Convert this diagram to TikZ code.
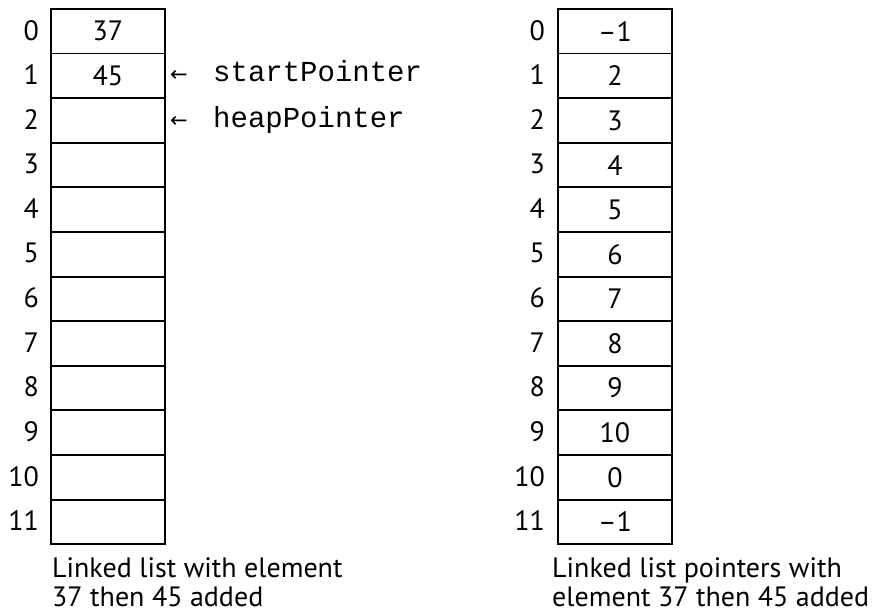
\documentclass[tikz,border=0pt]{standalone}
\usepackage{fontspec}
\setmainfont{PT Sans}
\newfontfamily\monof{Liberation Mono}
\newfontfamily\arrf{DejaVu Sans}
\begin{document}
\begin{tikzpicture}[x=1pt,y=-1pt,
  cell/.style={draw,line width=1.9pt,minimum width=114pt,minimum height=44.6pt,inner sep=0pt,font=\fontsize{28}{30}\selectfont,anchor=north west},
  idx/.style={anchor=east,inner sep=0pt,font=\fontsize{28}{30}\selectfont},
  ptr/.style={anchor=base west,inner sep=0pt,font=\monof\fontsize{29}{32}\selectfont},
  arr/.style={anchor=base west,inner sep=0pt,font=\arrf\fontsize{21}{24}\selectfont},
  captext/.style={anchor=base west,inner sep=0pt,align=left,font=\fontsize{28}{30}\selectfont}]
\useasboundingbox (0,0) rectangle (890,615);
\foreach \i/\v in {0/37,1/45,2/,3/,4/,5/,6/,7/,8/,9/,10/,11/}{
  \node[cell] (L\i) at (50,{8+44.6*\i}) {\v};
  \node[idx] (LI\i) at (39,{8+44.6*(\i+0.5)}) {\i};
}
\foreach \i/\v in {0/–1,1/2,2/3,3/4,4/5,5/6,6/7,7/8,8/9,9/10,10/0,11/–1}{
  \node[cell] (R\i) at (557,{8+44.6*\i}) {\v};
  \node[idx] (RI\i) at (545,{8+44.6*(\i+0.5)}) {\i};
}
\node[arr] (a1) at (170,82) {←};
\node[ptr] (sp) at (213,82) {startPointer};
\node[arr] (a2) at (170,127) {←};
\node[ptr] (hp) at (213,127) {heapPointer};
\node[captext] (c1) at (52,577) {Linked list with element};
\node[captext] (c1b) at (52,606) {37 then 45 added};
\node[captext] (c2) at (552,577) {Linked list pointers with};
\node[captext] (c2b) at (552,606) {element 37 then 45 added};
\end{tikzpicture}
\end{document}
